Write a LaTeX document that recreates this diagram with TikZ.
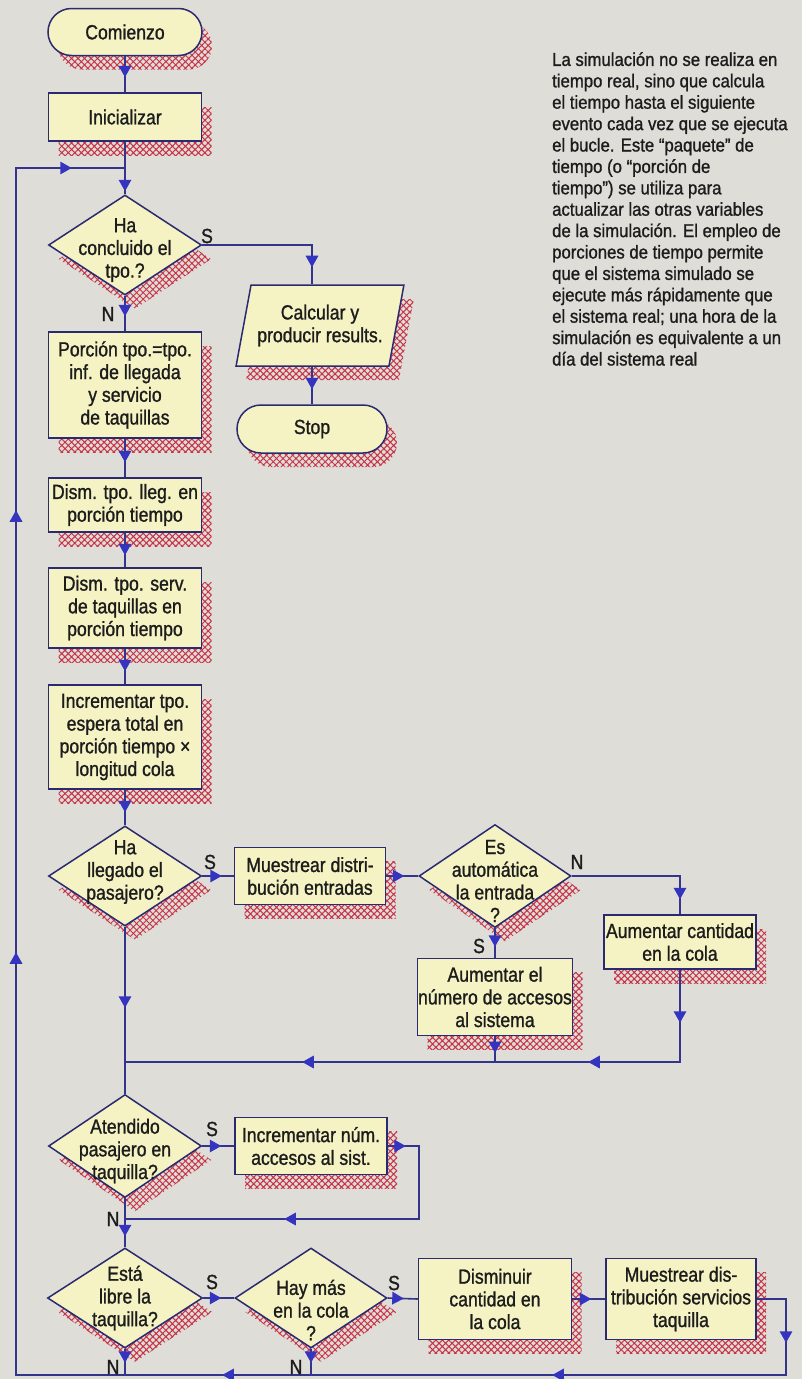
\documentclass[tikz,border=0pt]{standalone}
\usepackage{fontspec}
\setmainfont[FakeStretch=0.86,FakeBold=1.1]{Liberation Sans}
\newfontfamily\notefont[FakeStretch=0.9,FakeBold=1.1]{Liberation Sans}
\usetikzlibrary{shapes.geometric,shapes.misc,arrows.meta,decorations.markings,patterns.meta,shadows}
\definecolor{bgc}{RGB}{222,221,216}
\definecolor{boxc}{RGB}{245,243,196}
\definecolor{bordc}{RGB}{42,42,112}
\definecolor{linec}{RGB}{52,52,140}
\definecolor{arrc}{RGB}{52,52,190}
\definecolor{hatchc}{RGB}{200,50,70}
\definecolor{txtc}{RGB}{28,28,28}
\tikzset{
  hshadow/.style={general shadow={shadow xshift=10pt, shadow yshift=-14pt,
      pattern={Hatch[angle=45,distance=4.6pt,line width=1pt]}, pattern color=hatchc}},
  base/.style={draw=bordc, line width=1.5pt, fill=boxc, text=txtc, align=center,
      font=\fontsize{20.5}{22.7}\selectfont, inner sep=0pt, hshadow},
  box/.style={base, rectangle, minimum width=153, minimum height=54},
  term/.style={base, rounded rectangle, minimum width=154, minimum height=47},
  dia/.style={base, diamond, minimum width=153, minimum height=100},
  para/.style={base, trapezium, trapezium left angle=72, trapezium right angle=108,
      trapezium stretches=true, minimum width=168, minimum height=81},
  dtxt/.style={text=txtc, align=center, font=\fontsize{20.5}{22.7}\selectfont, inner sep=0pt},
  lab/.style={text=txtc, font=\fontsize{20.5}{22}\selectfont, inner sep=0pt},
  note/.style={text=txtc, align=left, font=\notefont\fontsize{18.6}{21.4}\selectfont, inner sep=0pt},
  conn/.style={draw=linec, line width=1.6pt},
  tip/.style={postaction={decorate, decoration={markings,
      mark=at position #1 with {\arrow{Triangle[width=12.5pt,length=11.5pt,color=arrc]}}}}}
}
\begin{document}
\begin{tikzpicture}[x=1pt,y=-1pt]
\fill[bgc] (0,0) rectangle (802,1379);
\useasboundingbox (0,0) rectangle (802,1379);

% note
\node[note, anchor=north west] (note) at (552,52) {La simulación no se realiza en\\tiempo real, sino que calcula\\el tiempo hasta el siguiente\\evento cada vez que se ejecuta\\el bucle. Este “paquete” de\\tiempo (o “porción de\\tiempo”) se utiliza para\\actualizar las otras variables\\de la simulación. El empleo de\\porciones de tiempo permite\\que el sistema simulado se\\ejecute más rápidamente que\\el sistema real; una hora de la\\simulación es equivalente a un\\día del sistema real};

% coordinates
\coordinate (j0) at (125,168);
\coordinate (j1) at (125,1062);
\coordinate (j2) at (125,1219);
\coordinate (b5) at (125,1375);
\coordinate (b6) at (311,1375);
\coordinate (r2) at (419,1146);
\coordinate (r3) at (419,1219);
\coordinate (c1) at (786,1299);
\coordinate (c2) at (786,1375);
\coordinate (c3) at (16,1375);
\coordinate (c4) at (16,168);

% nodes
\node[term] (com) at (125,32) {Comienzo};
\node[box, minimum height=48] (ini) at (125,117) {Inicializar};
\node[dia] (d1) at (125,245) {};
\node[para] (calc) at (320,325.5) {Calcular y\\producir results.};
\node[term, minimum width=150, minimum height=48] (stop) at (312,429) {Stop};
\node[box, minimum height=106] (por) at (125,385) {Porción tpo.=tpo.\\inf. de llegada\\y servicio\\de taquillas};
\node[box, minimum height=54] (dm1) at (125,505) {Dism. tpo. lleg. en\\porción tiempo};
\node[box, minimum height=80] (dm2) at (125,608) {Dism. tpo. serv.\\de taquillas en\\porción tiempo};
\node[box, minimum height=104] (inc) at (125,737) {Incrementar tpo.\\espera total en\\porción tiempo ×\\longitud cola};
\node[dia] (d2) at (125,876) {};
\node[box, minimum width=151, minimum height=57] (mue) at (310,876) {Muestrear distri-\\bución entradas};
\node[dia, minimum width=152, minimum height=103] (d3) at (495,876) {};
\node[box, minimum width=152, minimum height=54] (acant) at (680,942) {Aumentar cantidad\\en la cola};
\node[box, minimum width=155, minimum height=77] (ael) at (495,997) {Aumentar el\\número de accesos\\al sistema};
\node[dia, minimum height=103] (d4) at (125,1146) {};
\node[box, minimum width=152, minimum height=57] (inum) at (311,1146) {Incrementar núm.\\accesos al sist.};
\node[dia, minimum width=155] (d5) at (125,1298) {};
\node[dia, minimum width=152] (d6) at (311,1298) {};
\node[box, minimum height=81] (dis) at (495,1299) {Disminuir\\cantidad en\\la cola};
\node[box, minimum width=150, minimum height=81] (msv) at (681,1299) {Muestrear dis-\\tribución servicios\\taquilla};

% diamond texts
\node[dtxt] (d1t) at (125,250) {Ha\\concluido el\\tpo.?};
\node[dtxt] (d2t) at (125,872) {Ha\\llegado el\\pasajero?};
\node[dtxt] (d3t) at (495,881) {Es\\automática\\la entrada\\?};
\node[dtxt] (d4t) at (125,1151) {Atendido\\pasajero en\\taquilla?};
\node[dtxt] (d5t) at (125,1298) {Está\\libre la\\taquilla?};
\node[dtxt] (d6t) at (311,1310) {Hay más\\en la cola\\?};

% connectors
\draw[conn, tip=-15pt] (com.south) -- (ini.north);
\draw[conn, tip=-3pt] (ini.south) -- (d1.north);
\draw[conn, tip=-17pt] (d1.east) -- (d1.east -| stop.north) -- (stop.north |- calc.north);
\draw[conn, tip=-15pt] (stop.north |- calc.south) -- (stop.north);
\draw[conn, tip=-15pt] (d1.south) -- (por.north);
\draw[conn, tip=-15pt] (por.south) -- (dm1.north);
\draw[conn, tip=-12pt] (dm1.south) -- (dm2.north);
\draw[conn, tip=-13pt] (dm2.south) -- (inc.north);
\draw[conn, tip=-13pt] (inc.south) -- (d2.north);
\draw[conn, tip=-12pt] (d2.east) -- (mue.west);
\draw[conn, tip=-14pt] (mue.east) -- (d3.west);
\draw[conn, tip=-15pt] (d3.east) -- (d3.east -| acant.north) -- (acant.north);
\draw[conn, tip=-11pt] (d3.south) -- (ael.north);
\draw[conn, tip=53pt, tip=184pt, tip=470pt] (acant.south) -- (acant.south |- j1) -- (j1);
\draw[conn, tip=-9pt] (ael.south) -- (ael.south |- j1);
\draw[conn, tip=81pt] (d2.south) -- (d4.north);
\draw[conn, tip=-13pt] (d4.east) -- (inum.west);
\draw[conn, tip=18pt, tip=239pt] (inum.east) -- (r2) -- (r3) -- (j2);
\draw[conn, tip=-11pt] (d4.south) -- (d5.north);
\draw[conn, tip=-13pt] (d5.east) -- (d6.west);
\draw[conn, tip=-14pt] (d6.east) -- (dis.west);
\draw[conn, tip=-14pt] (dis.east) -- (msv.west);
\draw[conn, tip=73pt, tip=339pt, tip=669pt, tip=1298pt, tip=1740pt, tip=2138pt]
  (msv.east) -- (c1) -- (c2) -- (c3) -- (c4) -- (j0);
\draw[conn, tip=14pt] (d5.south) -- (b5);
\draw[conn, tip=14pt] (d6.south) -- (b6);

% labels
\node[lab] (s1) at (207,236) {S};
\node[lab] (n1) at (108,314) {N};
\node[lab] (s2) at (210,862) {S};
\node[lab] (n2) at (577,862) {N};
\node[lab] (s3) at (479,946) {S};
\node[lab] (s4) at (212,1129) {S};
\node[lab] (n3) at (113,1219) {N};
\node[lab] (s5) at (212,1282) {S};
\node[lab] (s6) at (394,1283) {S};
\node[lab] (n4) at (113,1367) {N};
\node[lab] (n5) at (296,1367) {N};
\end{tikzpicture}
\end{document}
